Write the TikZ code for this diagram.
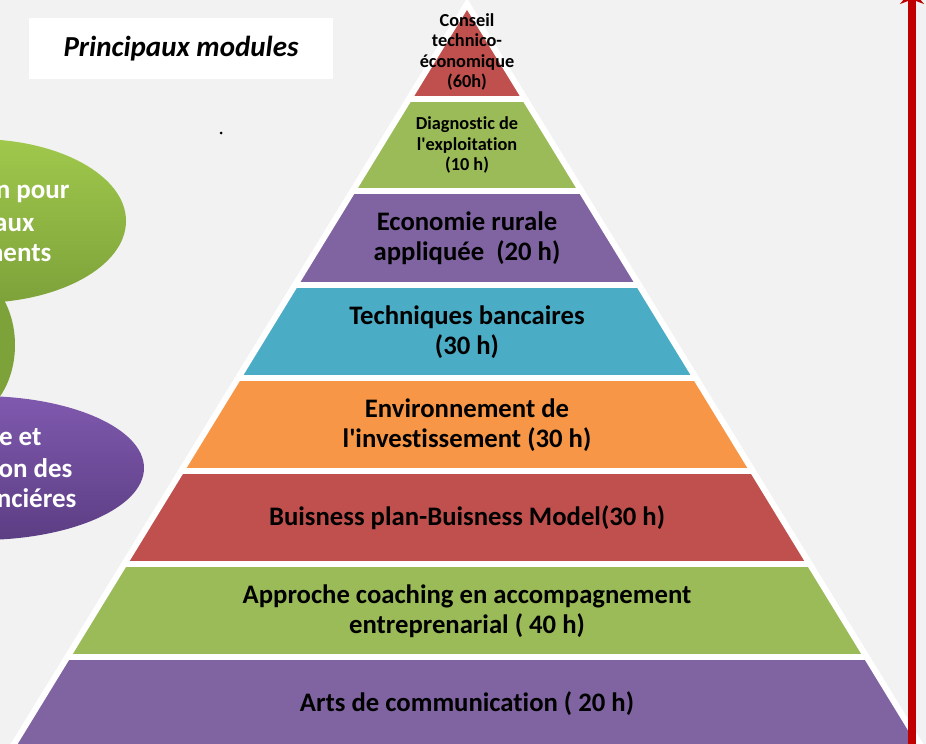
\documentclass[tikz,border=0pt]{standalone}
\usepackage{fontspec}
\setmainfont{Carlito}[Ligatures=NoCommon]
\usetikzlibrary{arrows.meta}

\definecolor{bgGrey}{HTML}{F2F2F2}
\definecolor{bandRed}{HTML}{C0504D}
\definecolor{bandGreen}{HTML}{9BBB59}
\definecolor{bandPurple}{HTML}{8064A2}
\definecolor{bandBlue}{HTML}{4BACC6}
\definecolor{bandOrange}{HTML}{F79646}
\definecolor{axisRed}{HTML}{C00000}
\definecolor{ovalGreenTop}{HTML}{A0C84C}
\definecolor{ovalGreenBot}{HTML}{7DA23A}
\definecolor{ovalPurpleTop}{HTML}{7F59AE}
\definecolor{ovalPurpleBot}{HTML}{5C3E84}

\tikzset{
  bandtext/.style={font=\fontsize{26.7}{29.5}\selectfont\bfseries, align=center},
  smalltext/.style={font=\fontsize{18.3}{20.6}\selectfont\bfseries, align=center},
  ovaltext/.style={font=\fontsize{27}{31}\selectfont\bfseries, text=white, anchor=base east},
  gap/.style={white, line width=6pt},
}

\begin{document}
\begin{tikzpicture}[x=1pt, y=-1pt]

%% background
\useasboundingbox (0,0) rectangle (926,744);
\fill[bgGrey] (0,0) rectangle (926,744);

%% left ovals
\fill[ovalGreenBot] (-40,345) ellipse (55 and 75);
\shade[top color=ovalGreenTop, bottom color=ovalGreenBot] (-23,221) ellipse (149 and 82);
\shade[top color=ovalPurpleTop, bottom color=ovalPurpleBot] (-20,468) ellipse (164 and 72);

\node[ovaltext] (greenA) at (73,198) {n pour};
\node[ovaltext] (greenB) at (38,231) {aux};
\node[ovaltext] (greenC) at (55,261) {ments};
\node[ovaltext] (purpleA) at (45,445) {e et};
\node[ovaltext] (purpleB) at (76,477) {on des};
\node[ovaltext] (purpleC) at (80,507) {nciéres};

%% title
\fill[white] (29,18) rectangle (333,79);
\node[font=\fontsize{29}{34}\selectfont\bfseries\itshape] (title) at (181,49) {Principaux modules};
\fill[black] (221,133) circle (1.5);

%% pyramid
\coordinate (apex) at (467,4);
\coordinate (footL) at (4.3,760);
\coordinate (footR) at (929.7,760);

\begin{scope}
\clip (apex) -- (footL) -- (footR) -- cycle;
\fill[bandRed] (0,0) rectangle (926,99);
\fill[bandGreen] (0,99) rectangle (926,191);
\fill[bandPurple] (0,191) rectangle (926,285);
\fill[bandBlue] (0,285) rectangle (926,378);
\fill[bandOrange] (0,378) rectangle (926,471);
\fill[bandRed] (0,471) rectangle (926,564);
\fill[bandGreen] (0,564) rectangle (926,657);
\fill[bandPurple] (0,657) rectangle (926,760);
\draw[gap] (0,99) -- (926,99);
\draw[gap] (0,191) -- (926,191);
\draw[gap] (0,285) -- (926,285);
\draw[gap] (0,378) -- (926,378);
\draw[gap] (0,471) -- (926,471);
\draw[gap] (0,564) -- (926,564);
\draw[gap] (0,657) -- (926,657);
\end{scope}
\draw[gap] (footL) -- (apex) -- (footR);

%% labels
\node[smalltext] (conseil) at (467,52) {Conseil\\technico-\\économique\\(60h)};
\node[smalltext] (diagnostic) at (467,145) {Diagnostic de\\l\textquotesingle exploitation\\(10 h)};
\node[bandtext] (economie) at (467,238) {Economie rurale\\appliquée~ (20 h)};
\node[bandtext] (techniques) at (467,332) {Techniques bancaires\\(30 h)};
\node[bandtext] (environnement) at (467,425) {Environnement de\\l\textquotesingle investissement (30 h)};
\node[bandtext] (business) at (467,518) {Buisness plan-Buisness Model(30 h)};
\node[bandtext] (approche) at (467,611) {Approche coaching en accompagnement\\entreprenarial ( 40 h)};
\node[bandtext] (arts) at (467,704) {Arts de communication ( 20 h)};

%% axis
\coordinate (axisFoot) at (912,750);
\coordinate (axisTip) at (912,-10);
\draw[axisRed, line width=8pt, -{Stealth[length=14pt, width=24pt]}] (axisFoot) -- (axisTip);

\end{tikzpicture}
\end{document}
